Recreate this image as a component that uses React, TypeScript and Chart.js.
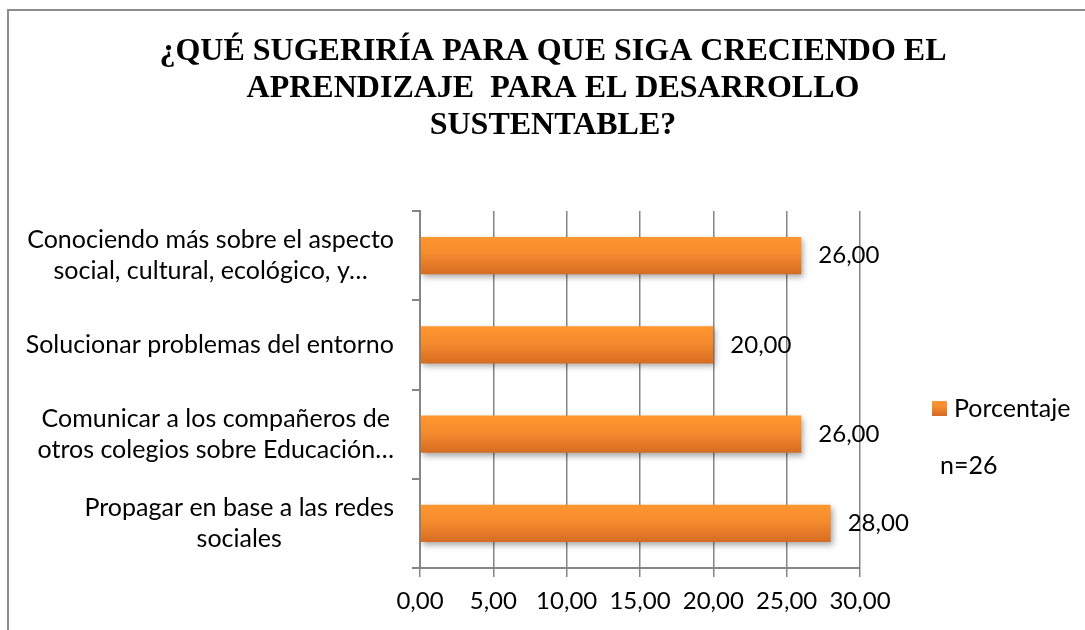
import React, { useEffect, useRef } from 'react';
import { Chart, registerables } from 'chart.js';

Chart.register(...registerables);

const titleLines = [
  '¿QUÉ SUGERIRÍA PARA QUE SIGA CRECIENDO EL',
  'APRENDIZAJE  PARA EL DESARROLLO',
  'SUSTENTABLE?',
];
const categories = [
  ['Conociendo más sobre el aspecto', 'social, cultural, ecológico, y…'],
  ['Solucionar problemas del entorno'],
  ['Comunicar a los compañeros de', 'otros colegios sobre Educación…'],
  ['Propagar en base a las redes', 'sociales'],
];
const seriesName = 'Porcentaje';
const values = [26, 20, 26, 28];
const sampleNote = 'n=26';
const xMin = 0;
const xMax = 30;
const xStep = 5;

const W = 1085;
const H = 630;
const FONT = 'Lato';
const FS = 24;
const FS_CAT = 25;
const GRID = '#858585';

const fmt = (v: number) => v.toFixed(2).replace('.', ',');

function barGradient(ctx: CanvasRenderingContext2D, top: number, bottom: number) {
  const g = ctx.createLinearGradient(0, top, 0, bottom);
  g.addColorStop(0, '#FF962F');
  g.addColorStop(0.45, '#F58B2E');
  g.addColorStop(1, '#D66C22');
  return g;
}

const decor = {
  id: 'decor',
  beforeDraw(chart: any) {
    const ctx = chart.ctx as CanvasRenderingContext2D;
    ctx.save();
    ctx.fillStyle = '#ffffff';
    ctx.fillRect(0, 0, chart.width, chart.height);
    ctx.strokeStyle = '#8c8c8c';
    ctx.lineWidth = 2;
    ctx.beginPath();
    ctx.moveTo(8, chart.height + 5);
    ctx.lineTo(8, 10);
    ctx.lineTo(chart.width + 5, 10);
    ctx.stroke();
    ctx.fillStyle = '#000';
    ctx.font = 'bold 32px "Liberation Serif"';
    ctx.textAlign = 'center';
    ctx.textBaseline = 'middle';
    titleLines.forEach((l, i) => ctx.fillText(l, 553, 52 + i * 37));
    ctx.restore();
  },
  beforeDatasetsDraw(chart: any) {
    const ctx = chart.ctx as CanvasRenderingContext2D;
    ctx.save();
    ctx.shadowColor = 'rgba(0,0,0,0.35)';
    ctx.shadowBlur = 6;
    ctx.shadowOffsetX = 2;
    ctx.shadowOffsetY = 3;
  },
  afterDatasetsDraw(chart: any) {
    const ctx = chart.ctx as CanvasRenderingContext2D;
    ctx.restore();
    ctx.save();
    ctx.fillStyle = '#000';
    ctx.font = `${FS}px ${FONT}`;
    ctx.textBaseline = 'middle';
    // data labels
    ctx.textAlign = 'left';
    const meta = chart.getDatasetMeta(0);
    meta.data.forEach((bar: any, i: number) => {
      ctx.fillText(fmt(values[i]), bar.x + 17, bar.y);
    });
    // category labels: block right-aligned, lines centered
    ctx.font = `${FS_CAT}px ${FONT}`;
    const yScale = chart.scales.y;
    const rightEdge = chart.chartArea.left - 26;
    ctx.textAlign = 'center';
    categories.forEach((lines, i) => {
      const cy = yScale.getPixelForValue(i);
      const wMax = Math.max(...lines.map((l) => ctx.measureText(l).width));
      const cx = rightEdge - wMax / 2;
      const lh = 31;
      const y0 = cy - ((lines.length - 1) * lh) / 2;
      lines.forEach((l, k) => ctx.fillText(l, cx, y0 + k * lh));
    });
    // legend
    const lx = 932;
    const ly = 408;
    ctx.fillStyle = barGradient(ctx, ly - 7, ly + 7);
    ctx.fillRect(lx, ly - 7, 15, 15);
    ctx.fillStyle = '#000';
    ctx.textAlign = 'left';
    ctx.fillText(seriesName, lx + 22, ly + 1);
    ctx.fillText(sampleNote, 940, 466);
    ctx.restore();
  },
};

export default function App() {
  const ref = useRef<HTMLCanvasElement>(null);
  useEffect(() => {
    if (!ref.current) return;
    const chart = new Chart(ref.current, {
      type: 'bar',
      data: {
        labels: categories.map((c) => c.join(' ')),
        datasets: [
          {
            label: seriesName,
            data: values,
            backgroundColor: (c: any) => {
              const ch = c.chart;
              const ys = ch.scales?.y;
              const area = ch.chartArea;
              if (!ys || !area) return '#F79646';
              const center = ys.getPixelForValue(c.dataIndex);
              const half = ((area.bottom - area.top) / categories.length) * 0.415 / 2;
              return barGradient(ch.ctx, center - half, center + half);
            },
            borderWidth: 0,
            categoryPercentage: 1,
            barPercentage: 0.415,
          },
        ],
      },
      options: {
        indexAxis: 'y',
        responsive: false,
        animation: false,
        devicePixelRatio: 1,
        layout: { padding: { left: 410, right: 225, top: 211, bottom: 12 } },
        plugins: {
          legend: { display: false },
          title: { display: false },
          tooltip: { enabled: false },
        },
        scales: {
          x: {
            min: xMin,
            max: xMax,
            ticks: {
              stepSize: xStep,
              color: '#000',
              font: { family: FONT, size: FS },
              padding: 10,
              callback: (v: any) => fmt(Number(v)),
              maxRotation: 0,
            },
            grid: { color: GRID, lineWidth: 1.5, tickLength: 9, drawTicks: true },
            border: { display: true, color: GRID, width: 2 },
            afterFit: (s: any) => {
              s.height = 50;
            },
          },
          y: {
            ticks: { display: false },
            grid: { drawOnChartArea: false, drawTicks: true, tickLength: 8, color: GRID, lineWidth: 2, offset: true },
            border: { display: true, color: GRID, width: 2 },
            afterFit: (s: any) => {
              s.width = 10;
            },
          },
        },
      },
      plugins: [decor],
    });
    return () => chart.destroy();
  }, []);
  return (
    <div style={{ position: 'fixed', left: 0, top: 0, width: W, height: H, background: '#fff' }}>
      <canvas ref={ref} width={W} height={H} style={{ width: W, height: H, display: 'block' }} />
    </div>
  );
}
